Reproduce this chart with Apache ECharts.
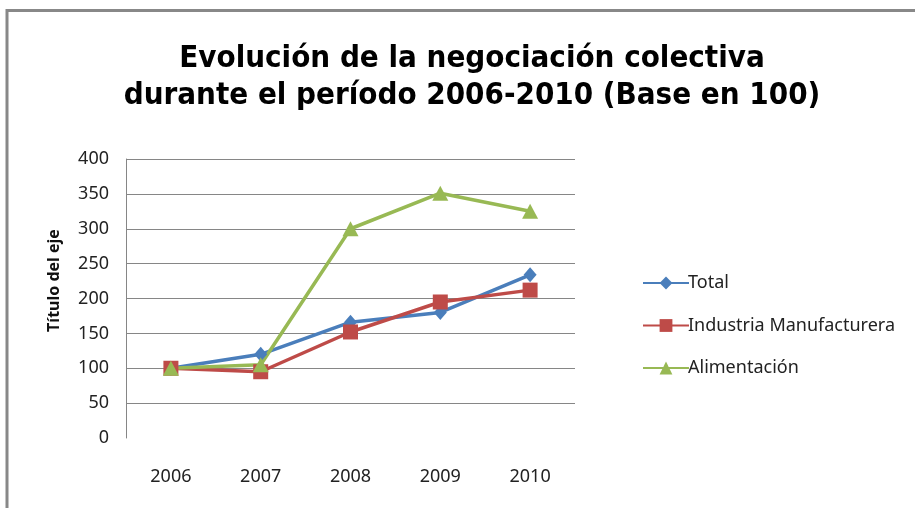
<!DOCTYPE html>
<html>
<head>
<meta charset="utf-8">
<script src="https://cdn.jsdelivr.net/npm/echarts@6/dist/echarts.min.js"></script>
<style>
  html, body { margin: 0; padding: 0; background: #fff; }
  #chart { width: 915px; height: 508px; }
</style>
</head>
<body>
<div id="chart"></div>
<script>
const years = ["2006", "2007", "2008", "2009", "2010"]
const total = [100, 120, 166, 180, 234]
const industria = [100, 95, 152, 195, 212]
const alimentacion = [100, 105, 300, 351, 325]
const yTicks = [0, 50, 100, 150, 200, 250, 300, 350, 400]

const font = "'Noto Sans', sans-serif"
const titleFont = "'Liberation Sans Narrow', 'DejaVu Sans Condensed', 'Noto Sans', sans-serif"
const chart = echarts.init(document.getElementById("chart"))

const option = {
  animation: false,
  backgroundColor: "#fff",
  title: {
    text: "Evolución de la negociación colectiva\ndurante el período 2006-2010 (Base en 100)",
    left: 467,
    textAlign: "center",
    top: 35,
    textStyle: {
      fontFamily: titleFont,
      fontSize: 31,
      fontWeight: "bold",
      color: "#000",
      lineHeight: 37,
    },
  },
  graphic: [
    { type: "line", shape: { x1: 7, y1: 9, x2: 7, y2: 508 }, style: { stroke: "#888", lineWidth: 3 } },
    { type: "line", shape: { x1: 6, y1: 10.5, x2: 915, y2: 10.5 }, style: { stroke: "#888", lineWidth: 3 } },
  ],
  legend: {
    orient: "vertical",
    left: 637,
    top: 269,
    itemWidth: 46,
    itemHeight: 16,
    itemGap: 24.5,
    textStyle: { fontFamily: font, fontSize: 18, color: "#222", padding: [0, 0, 0, -6] },
    data: ["Total", "Industria Manufacturera", "Alimentación"],
  },
  grid: { left: 126, right: 340, top: 159, bottom: 70 },
  xAxis: {
    type: "category",
    data: years,
    axisLine: { show: false },
    axisTick: { show: false },
    axisLabel: { fontFamily: font, fontSize: 18, color: "#222", margin: 30 },
  },
  yAxis: {
    type: "value",
    min: yTicks[0],
    max: yTicks[yTicks.length - 1],
    interval: 50,
    name: "Título del eje",
    nameLocation: "middle",
    nameGap: 64,
    nameTextStyle: { fontFamily: font, fontSize: 16, color: "#111", fontWeight: "bold", padding: [0, 0, 0, 36] },
    axisLine: { show: true, lineStyle: { color: "#868686", width: 1 } },
    axisTick: { show: false },
    axisLabel: { fontFamily: font, fontSize: 18, color: "#222", margin: 17 },
    splitLine: {
      lineStyle: { color: "#868686", width: 1 },
      showMinLine: false,
    },
  },
  series: [
    {
      name: "Total",
      type: "line",
      data: total,
      symbol: "diamond",
      symbolSize: [13, 15],
      lineStyle: { color: "#4A7EBB", width: 3.5 },
      itemStyle: { color: "#4A7EBB" },
    },
    {
      name: "Industria Manufacturera",
      type: "line",
      data: industria,
      symbol: "rect",
      symbolSize: 15,
      lineStyle: { color: "#BE4B48", width: 3.5 },
      itemStyle: { color: "#BE4B48" },
    },
    {
      name: "Alimentación",
      type: "line",
      data: alimentacion,
      symbol: "triangle",
      symbolSize: [16, 15],
      lineStyle: { color: "#98B954", width: 3.5 },
      itemStyle: { color: "#98B954" },
    },
  ],
}

chart.setOption(option)
</script>
</body>
</html>
